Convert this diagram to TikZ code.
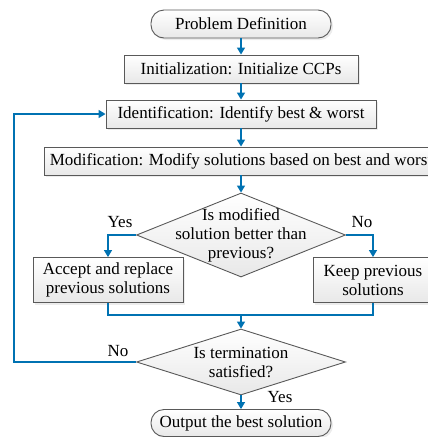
\documentclass[tikz,border=0pt]{standalone}
\usepackage{fontspec}
\setmainfont{Liberation Serif}
\usetikzlibrary{shapes.geometric, shadows, arrows.meta}

\definecolor{flowblue}{RGB}{0,114,178}

\tikzset{
  base/.style={draw=black!65, line width=0.9pt, top color=white, bottom color=gray!18,
    inner sep=2pt, align=center},
  proc/.style={base, rectangle, drop shadow={shadow xshift=2pt, shadow yshift=-2pt, fill=gray!30}},
  term/.style={base, rectangle, rounded corners=13pt, drop shadow={shadow xshift=2pt, shadow yshift=-2pt, fill=gray!30}},
  dec/.style={base, diamond, inner sep=0pt},
  flow/.style={draw=flowblue, line width=1.5pt},
  arr/.style={flow, -{Triangle[length=7pt, width=8pt]}},
}

\begin{document}
\begin{tikzpicture}[x=1pt, y=1pt, font=\fontsize{17}{19}\selectfont]

    \useasboundingbox (0,0) rectangle (428,-437);
    \clip (0,0) rectangle (428,-437);

    % boxes
    \node[term, minimum width=180, minimum height=28] (pd) at (241,-24) {Problem Definition};
    \node[proc, minimum width=234, minimum height=28] (init) at (241,-69) {Initialization: Initialize CCPs};
    \node[proc, minimum width=270, minimum height=28] (ident) at (241,-114) {Identification: Identify best \& worst};
    \node[proc, minimum width=394, minimum height=28] (mod) at (241,-161) {Modification: Modify solutions based on best and worst};

    \node[dec, minimum width=209, minimum height=84] (better) at (241,-235) {};
    \node[align=center, inner sep=0pt] (bettertxt) at (241,-235) {Is modified\\solution better than\\previous?};

    \node[proc, minimum width=150, minimum height=45] (accept) at (108,-280) {Accept and replace\\previous solutions};
    \node[proc, minimum width=120, minimum height=45] (keep) at (373,-280) {Keep previous\\solutions};

    \node[dec, minimum width=209, minimum height=66] (stop) at (241,-362) {};
    \node[align=center, inner sep=0pt] (stoptxt) at (241,-362) {Is termination\\satisfied?};

    \node[term, minimum width=180, minimum height=27] (out) at (241,-423) {Output the best solution};

    \coordinate (join) at (241,-315);
    \coordinate (loop) at (14,-362);

    % connectors
    \draw[arr] (pd) -- (init);
    \draw[arr] (init) -- (ident);
    \draw[arr] (ident) -- (mod);
    \draw[arr] (mod) -- (better);
    \draw[arr] (better.west) -| (accept.north);
    \draw[arr] (better.east) -| (keep.north);
    \draw[flow] (accept.south) |- (join) -| (keep.south);
    \draw[arr] (join) -- (stop.north);
    \draw[arr] (stop.west) -- (loop) |- (ident.west);
    \draw[arr] (stop.south) -- (out.north);

    % labels
    \node (yes1) at (120,-222) {Yes};
    \node (no1) at (362,-222) {No};
    \node (no2) at (118,-351) {No};
    \node (yes2) at (280,-397) {Yes};

\end{tikzpicture}
\end{document}
